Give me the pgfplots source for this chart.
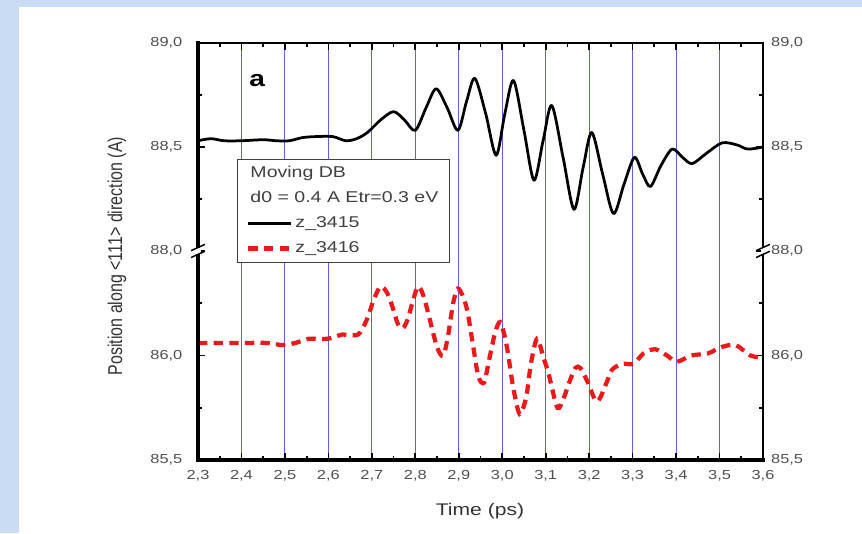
\documentclass[border=0pt]{standalone}
\usepackage{fontspec}
\setmainfont{Liberation Sans}[FakeStretch=1.25]
\newfontfamily\labelfont{Liberation Sans}
\usepackage{graphicx}
\usepackage{pgfplots}
\pgfplotsset{compat=1.18}

\definecolor{slideblue}{RGB}{202,220,244}
\definecolor{gridblue}{RGB}{95,95,225}
\definecolor{tickgray}{RGB}{80,80,80}
\definecolor{dbred}{RGB}{235,25,25}

% shared look of the two panels of the broken y axis
\pgfplotsset{
  brokenaxis/.style={
    scale only axis, width=452pt,
    xmin=2.3, xmax=3.6,
    xtick={2.3,2.4,2.5,2.6,2.7,2.8,2.9,3.0,3.1,3.2,3.3,3.4,3.5,3.6},
    minor xtick={2.35,2.45,2.55,2.65,2.75,2.85,2.95,3.05,3.15,3.25,3.35,3.45,3.55},
    xmajorgrids,
    major grid style={draw=gridblue, line width=0.8pt},
    tick align=inside,
    major tick length=5.5pt, minor tick length=3.5pt,
    tick style={black, line width=1.4pt},
    axis line style={draw=none},
    xticklabel style={font=\fontsize{10.5}{12}\selectfont, text=tickgray, yshift=-5pt},
    yticklabel style={font=\fontsize{10.5}{12}\selectfont, text=tickgray, xshift=-9pt},
    /pgf/number format/.cd, use comma, fixed, fixed zerofill, precision=1, assume math mode=true,
  },
  rightlabels/.style={
    scale only axis, width=452pt,
    xmin=2.3, xmax=3.6, xtick=\empty,
    axis line style={draw=none}, tick style={draw=none},
    yticklabel pos=right,
    yticklabel style={font=\fontsize{10.5}{12}\selectfont, text=tickgray, xshift=3pt},
    /pgf/number format/.cd, use comma, fixed, fixed zerofill, precision=1, assume math mode=true,
  },
  dbline/.style={black, line width=2.2pt, line join=round},
  dbdash/.style={dbred, line width=3.4pt, dash pattern=on 7.5pt off 5pt},
}

\begin{document}
\begin{tikzpicture}
% slide background and white sheet
\useasboundingbox (-158.4pt,-58.4pt) rectangle (531.2pt,368pt);
\fill[slideblue] (-158.4pt,-58.4pt) rectangle (531.2pt,368pt);
\fill[white] (-143.2pt,-58.4pt) rectangle (531.2pt,362.4pt);

% lower panel: z_3416
\begin{axis}[brokenaxis, name=lower, height=167.2pt, at={(0pt,0pt)}, anchor=south west,
  ymin=85.5, ymax=86.5, ytick={85.5,86.0}, minor ytick={85.75,86.25},
  xtick pos=left, ytick pos=both]
\addplot[dbdash, smooth, tension=0.5] coordinates {
(2.30,86.06) (2.35,86.06) (2.40,86.06) (2.46,86.06) (2.494,86.05) (2.524,86.06)
(2.555,86.08) (2.598,86.08) (2.632,86.10) (2.668,86.10) (2.688,86.17) (2.705,86.27)
(2.72,86.33) (2.735,86.30) (2.748,86.23) (2.76,86.15) (2.771,86.13) (2.782,86.17)
(2.793,86.25) (2.806,86.33) (2.818,86.29) (2.83,86.20) (2.85,86.04) (2.864,86.00)
(2.875,86.09) (2.887,86.25) (2.898,86.32) (2.91,86.28) (2.92,86.21) (2.932,86.06)
(2.945,85.90) (2.958,85.87) (2.968,85.96) (2.976,86.04) (2.985,86.12) (2.995,86.16)
(3.006,86.09) (3.014,86.00) (3.025,85.85) (3.04,85.72) (3.055,85.80) (3.066,85.96)
(3.08,86.08) (3.095,85.99) (3.107,85.91) (3.127,85.75) (3.142,85.80) (3.154,85.87)
(3.168,85.94) (3.18,85.94) (3.195,85.88) (3.218,85.78) (3.24,85.87) (3.252,85.93)
(3.275,85.96) (3.302,85.96) (3.325,86.01) (3.352,86.03) (3.379,86.00) (3.402,85.97)
(3.435,86.00) (3.473,86.01) (3.504,86.04) (3.537,86.05) (3.571,86.00) (3.60,85.99)
};
\end{axis}
\begin{axis}[rightlabels, height=167.2pt, at={(0pt,0pt)}, anchor=south west,
  ymin=85.5, ymax=86.5, ytick={85.5,86.0}]
\end{axis}

% upper panel: z_3415
\begin{axis}[brokenaxis, name=upper, height=166.4pt, at={(0pt,167.2pt)}, anchor=south west,
  ymin=88, ymax=89, ytick={88,88.5,89}, minor ytick={88.25,88.75},
  xtick pos=right, ytick pos=both, xticklabels={},
  legend cell align=left,
  legend image code/.code={\draw[#1] (0pt,0pt) -- (34pt,0pt);},
  legend style={at={(axis cs:2.39,88.44)}, anchor=north west,
    draw=black!75, line width=0.6pt, fill=white,
    inner xsep=7pt, inner ysep=3pt, row sep=4pt,
    nodes={inner sep=2pt, text height=9pt, text depth=3pt,
      font=\fontsize{12.5}{14}\selectfont, text=black!75}}]
\addlegendimage{empty legend}
\addlegendentry{\hspace*{-36pt}Moving DB}
\addlegendimage{empty legend}
\addlegendentry{\hspace*{-36pt}d0 = 0.4 A Etr=0.3 eV}
\addplot[dbline, smooth, tension=0.5] coordinates {
(2.30,88.53) (2.33,88.54) (2.36,88.53) (2.40,88.53) (2.45,88.535) (2.48,88.53)
(2.51,88.53) (2.54,88.545) (2.57,88.55) (2.61,88.55) (2.64,88.53) (2.665,88.54)
(2.69,88.57) (2.72,88.63) (2.75,88.67) (2.775,88.63) (2.80,88.58) (2.825,88.69)
(2.848,88.78) (2.873,88.69) (2.898,88.58) (2.918,88.72) (2.937,88.83) (2.962,88.66)
(2.986,88.46) (3.006,88.66) (3.026,88.82) (3.05,88.58) (3.073,88.34) (3.094,88.53)
(3.114,88.70) (3.14,88.45) (3.165,88.20) (3.186,88.40) (3.206,88.57) (3.231,88.37)
(3.256,88.18) (3.28,88.32) (3.304,88.45) (3.323,88.37) (3.341,88.31) (3.365,88.41)
(3.391,88.49) (3.415,88.45) (3.437,88.42) (3.47,88.47) (3.506,88.52) (3.54,88.51)
(3.565,88.49) (3.60,88.50)
};
\addlegendentry{z\_3415}
\addlegendimage{dbdash}
\addlegendentry{z\_3416}
\node[font=\bfseries\fontsize{18}{20}\selectfont] at (axis cs:2.436,88.82) {a};
\end{axis}
\begin{axis}[rightlabels, height=166.4pt, at={(0pt,167.2pt)}, anchor=south west,
  ymin=88, ymax=89, ytick={88,88.5,89}]
\end{axis}

% axis frame, open at the break
\draw[line width=2.5pt, line cap=rect] (lower.north west) -- (lower.south west) -- (lower.south east);
\draw[line width=2.1pt] (lower.south east) -- (lower.north east);
\draw[line width=2.5pt, line cap=rect] (upper.south west) -- (upper.north west);
\draw[line width=1.7pt, line cap=rect] (upper.north west) -- (upper.north east);
\draw[line width=2.1pt] (upper.north east) -- (upper.south east);

% break marks on both vertical axes
\foreach \bx in {0pt,452pt} {
  \fill[white] ([xshift=-2pt]\bx,164.5pt) rectangle ([xshift=2pt]\bx,170pt);
  \draw[line width=1.2pt] ([xshift=-5.5pt]\bx,162pt) -- ([xshift=5.5pt]\bx,167pt);
  \draw[line width=1.2pt] ([xshift=-5.5pt]\bx,167.5pt) -- ([xshift=5.5pt]\bx,172.5pt);
}

% axis titles
\node[font=\fontsize{13.5}{15}\selectfont, text=black!80] at (225.6pt,-41.2pt) {Time (ps)};
\node[rotate=90, font=\labelfont\fontsize{12.8}{15}\selectfont, text=black!80]
  at (-64.8pt,163.2pt) {\scalebox{1}[1.25]{Position along <111> direction (A)}};
\end{tikzpicture}
\end{document}
